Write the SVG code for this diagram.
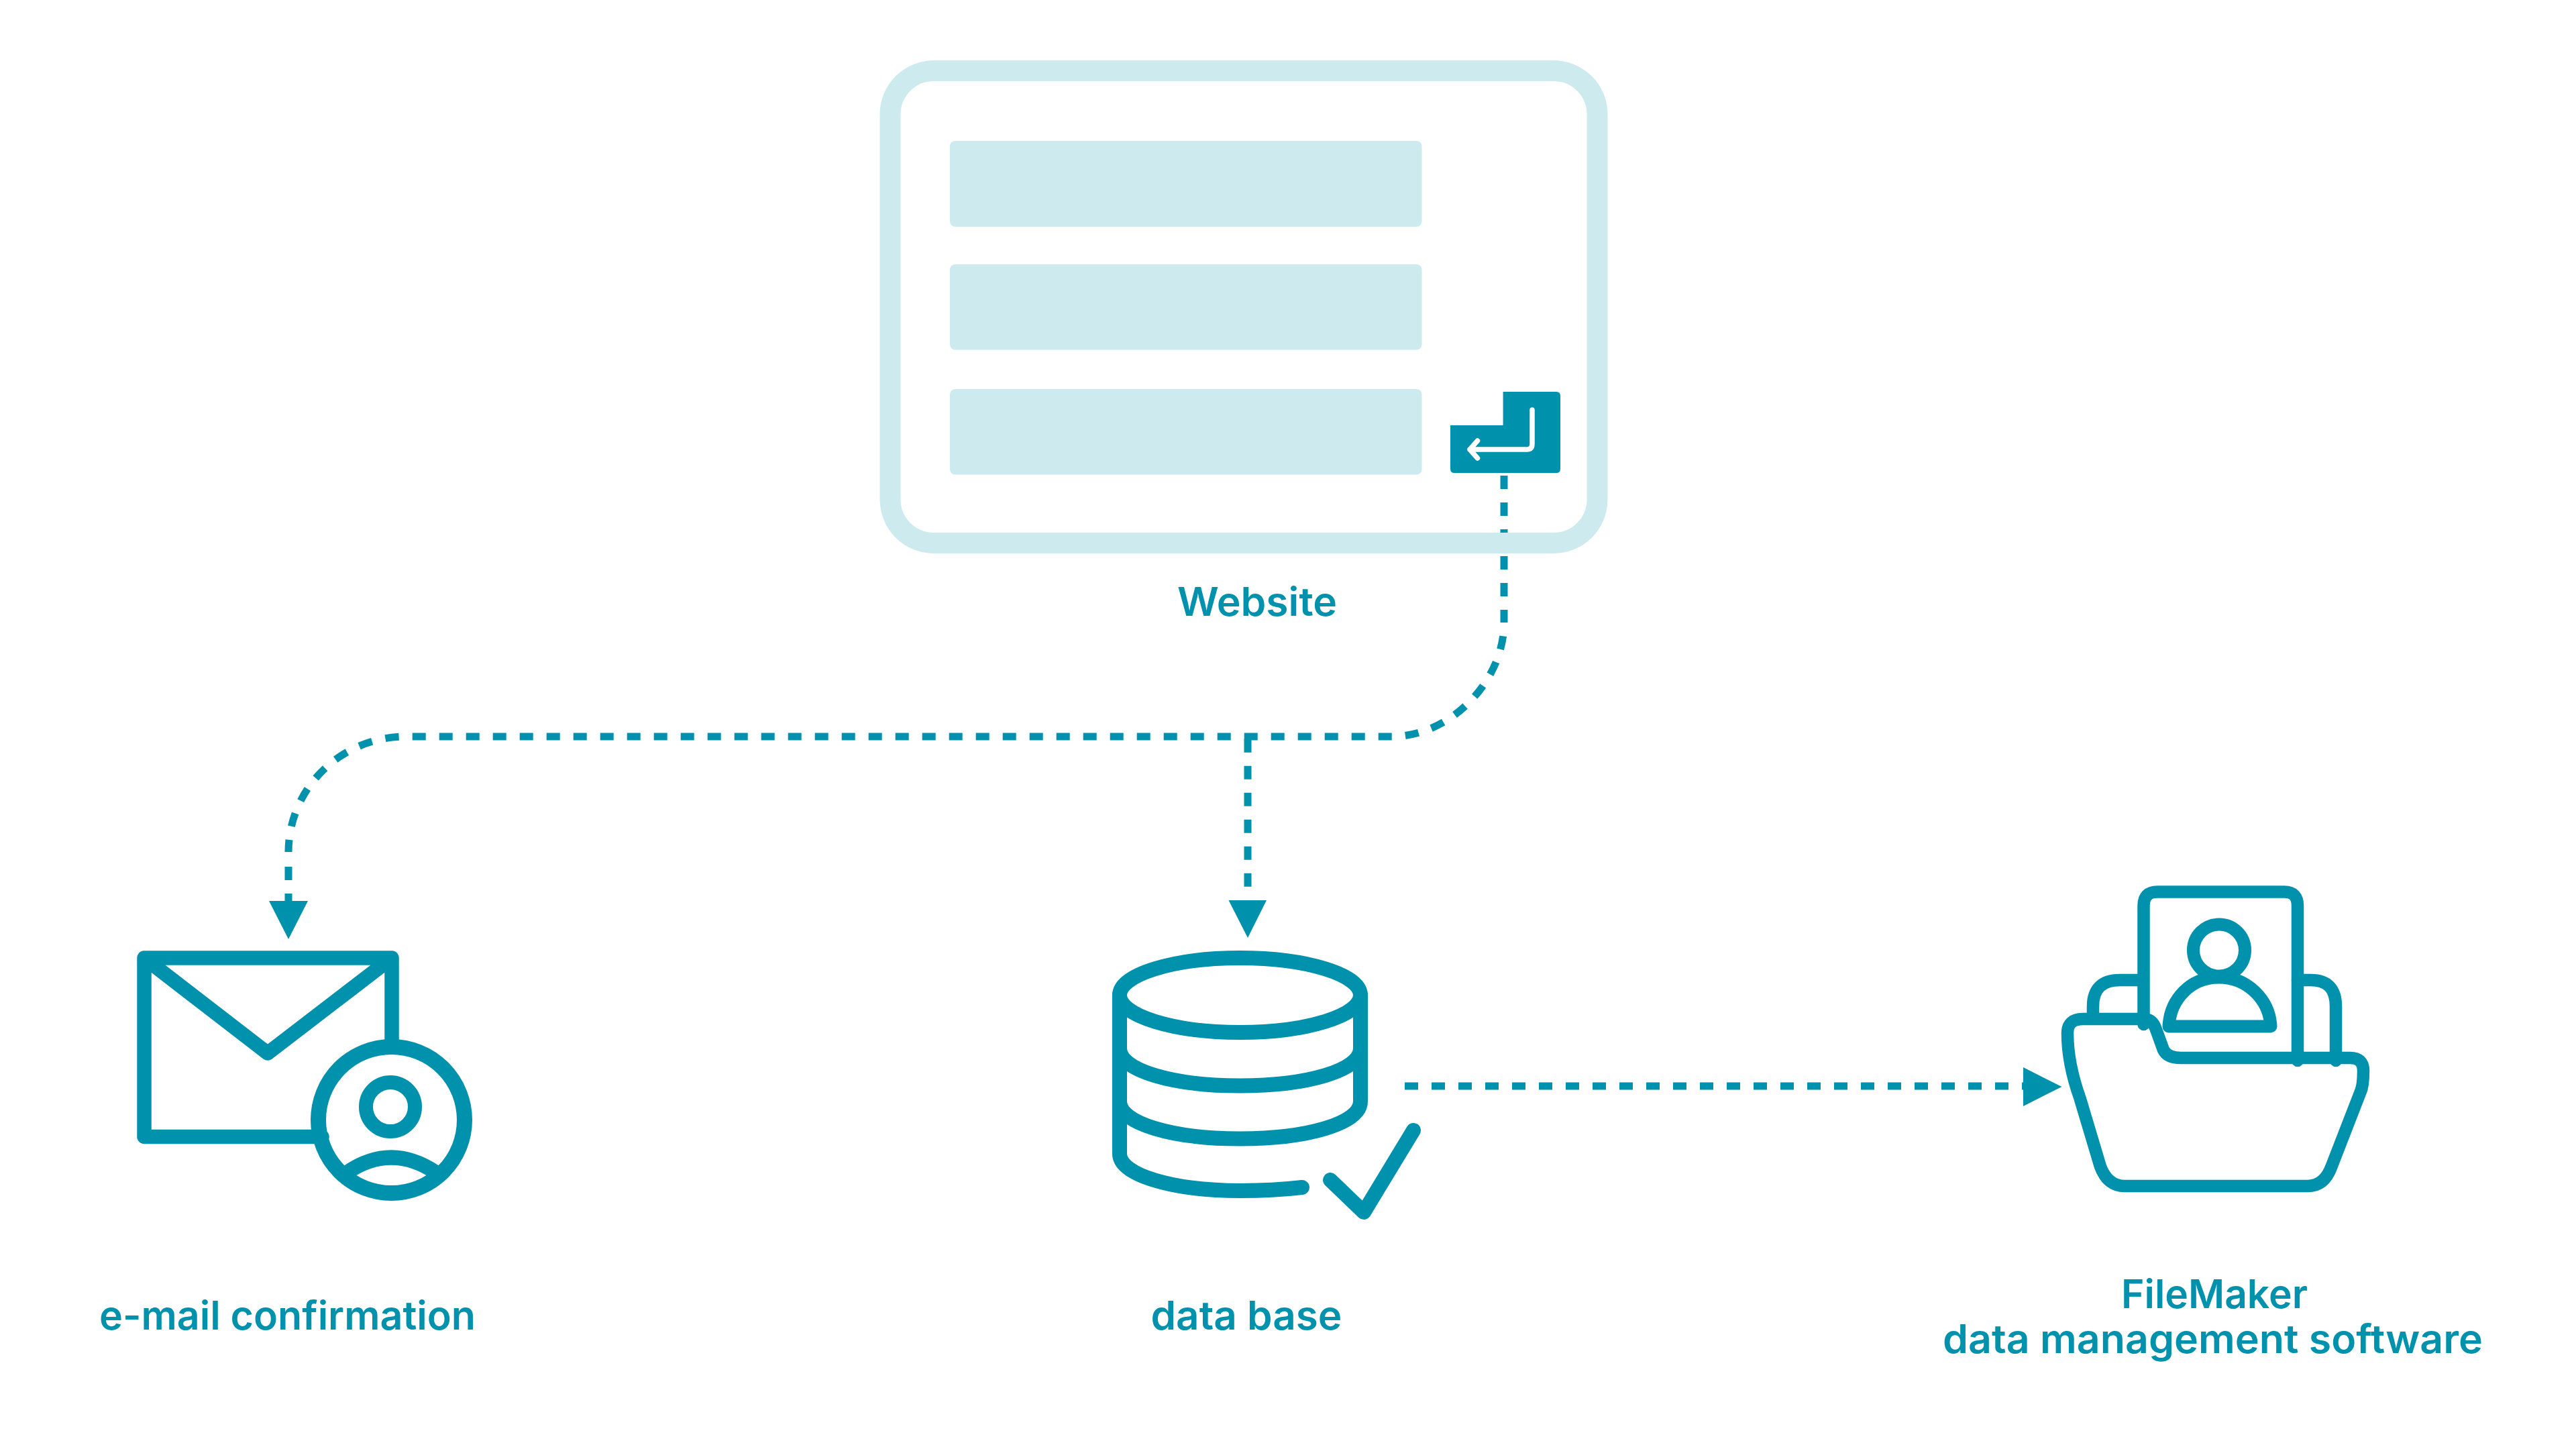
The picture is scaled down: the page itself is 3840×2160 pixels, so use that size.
<svg xmlns="http://www.w3.org/2000/svg" width="3840" height="2160" viewBox="0 0 3840 2160">
<style>
.label{font-family:"Inter","Liberation Sans",sans-serif;font-weight:600;font-size:59px;fill:#0091ad}
.ink{fill:none;stroke:#0091ad;stroke-linecap:round;stroke-linejoin:round}
.dash{fill:none;stroke:#0091ad;stroke-width:11;stroke-dasharray:20 20}
.head{fill:#0091ad}
.bar{fill:#cdebee}
</style>
<rect width="3840" height="2160" fill="#ffffff"/>
<g id="connectors">
<path class="dash" d="M2242 709V928"/>
<path class="dash" d="M2242 928C2242 1016 2161.700 1098 2074.700 1098" pathLength="260" stroke-dashoffset="20"/>
<path class="dash" d="M2074.700 1098H605"/>
<path class="dash" d="M605 1098A175 172 0 0 0 430 1270" pathLength="268.300" stroke-dashoffset="29.700"/>
<path class="dash" d="M430 1292V1343"/>
<path class="dash" d="M1860 1101.700V1325"/>
<path class="dash" d="M2094 1619H3016"/>
<polygon class="head" points="401,1343 459,1343 430,1400"/>
<polygon class="head" points="1831.500,1342 1888,1342 1860,1398"/>
<polygon class="head" points="3016,1591 3073.500,1620 3016,1649"/>
</g>
<g id="website">
<rect x="1327" y="105.500" width="1054" height="704" rx="65" ry="65" fill="none" stroke="#cdebee" stroke-width="31"/>
<rect class="bar" x="1416" y="210" width="703.500" height="128" rx="8"/>
<rect class="bar" x="1416" y="394" width="703.500" height="127.500" rx="8"/>
<rect class="bar" x="1416" y="580" width="703.500" height="127.500" rx="8"/>
<path class="head" d="M2240.600 584H2320Q2326 584 2326 590V699Q2326 705 2320 705H2168Q2162 705 2162 699V634H2240.600Z"/>
<path d="M2284 611V662Q2284 670 2276 670H2191M2202.500 657L2191 670L2202.500 683" fill="none" stroke="#ffffff" stroke-width="7.500" stroke-linecap="round" stroke-linejoin="round"/>
<text class="label" x="1755" y="918" textLength="238" lengthAdjust="spacingAndGlyphs">Website</text>
</g>
<g id="email">
<path class="ink" stroke-width="21.500" d="M480 1694.500H215V1428H584V1560M215 1428L399 1570L584 1428"/>
<circle class="ink" cx="583.500" cy="1669.500" r="109" stroke-width="23" fill="#ffffff"/>
<circle class="ink" cx="582" cy="1650" r="36.500" stroke-width="21"/>
<path class="ink" stroke-linecap="butt" stroke-width="22" d="M517 1748Q583 1703 650 1748"/>
<text class="label" x="148" y="1982" textLength="561" lengthAdjust="spacingAndGlyphs">e-mail confirmation</text>
</g>
<g id="database">
<ellipse class="ink" cx="1848.500" cy="1483.500" rx="179.500" ry="55.500" stroke-width="22"/>
<path class="ink" stroke-width="22" d="M1669 1483V1720C1669 1752 1750 1775 1849 1775C1885 1775 1915 1773 1941 1770M2028 1483V1642C2028 1675 1948 1697.500 1848.500 1697.500C1749 1697.500 1669 1675 1669 1642M1669 1563C1669 1596 1749 1618.500 1848.500 1618.500C1948 1618.500 2028 1596 2028 1563"/>
<path class="ink" stroke-width="22" d="M1983 1759L2033 1807L2107 1685"/>
<text class="label" x="1715.500" y="1982" textLength="285" lengthAdjust="spacingAndGlyphs">data base</text>
</g>
<g id="filemaker">
<path class="ink" stroke-width="18.500" d="M3195.500 1527V1350Q3195.500 1329.500 3216 1329.500H3405Q3425 1329.500 3425 1350V1581"/>
<circle class="ink" cx="3308" cy="1416.500" r="38.500" stroke-width="19"/>
<path class="ink" stroke-width="19" d="M3233 1530C3235 1490 3265 1457 3308 1457C3350 1457 3383 1490 3385 1530Z"/>
<path class="ink" stroke-width="18.500" d="M3120 1515V1500Q3120 1461 3160 1461H3195M3425 1461H3445Q3482 1461 3482 1500V1581"/>
<path class="ink" stroke-width="18.500" d="M3082 1540Q3082 1519 3105 1519H3195Q3208 1519 3213 1532L3225 1565Q3231 1577 3251 1577H3503Q3523 1577 3523 1596Q3523 1618 3519 1627L3475.500 1739Q3465 1768 3440 1768H3167Q3142 1768 3131 1739L3100.500 1637Q3082 1585 3082 1540Z"/>
<text class="label" x="3162" y="1950" textLength="278" lengthAdjust="spacingAndGlyphs">FileMaker</text>
<text class="label" x="2896" y="2017" textLength="805" lengthAdjust="spacingAndGlyphs">data management software</text>
</g>
</svg>
